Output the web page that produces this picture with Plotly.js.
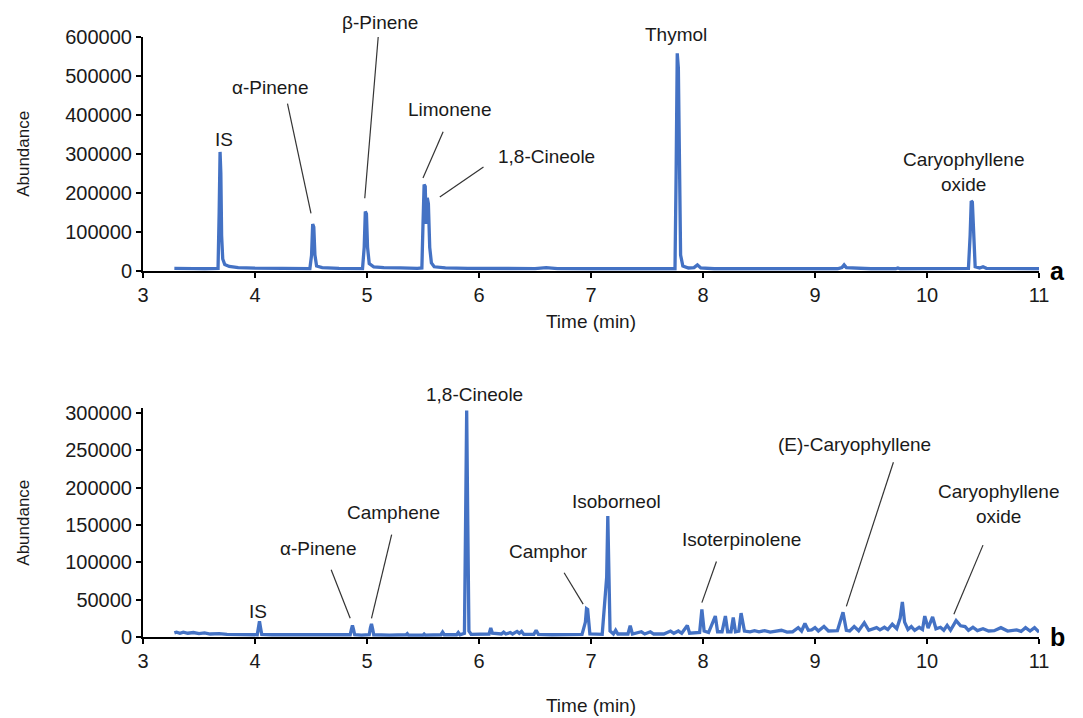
<!DOCTYPE html>
<html>
<head>
<meta charset="utf-8">
<script src="https://cdn.plot.ly/plotly-3.0.1.min.js"></script>
<style>html,body{margin:0;padding:0;background:#fff;}#chart{width:1083px;height:718px;}</style>
</head>
<body>
<div id="chart"></div>
<script>
// ---- Chromatogram a ----
const timeA = [3.28,3.35,3.45,3.55,3.65,3.67,3.68,3.688,3.695,3.702,3.712,3.73,3.77,3.85,4.0,4.2,4.4,4.49,4.505,4.515,4.525,4.535,4.55,4.6,4.75,4.96,4.975,4.985,4.995,5.005,5.02,5.06,5.15,5.22,5.3,5.45,5.49,5.5,5.51,5.52,5.528,5.538,5.548,5.56,5.575,5.6,5.7,5.9,6.2,6.5,6.6,6.7,7.0,7.3,7.6,7.75,7.76,7.77,7.78,7.79,7.8,7.82,7.87,7.92,7.95,7.98,8.1,8.5,8.9,9.2,9.24,9.26,9.28,9.5,9.72,9.74,9.76,10.0,10.3,10.37,10.385,10.395,10.405,10.415,10.43,10.47,10.5,10.53,10.7,11.0];
const abundA = [6000,5000,5500,5000,5000,6000,150000,305000,250000,90000,30000,16000,11000,8000,6500,6000,5500,5500,40000,120000,112000,40000,12000,8000,6000,5500,60000,152000,146000,60000,18000,10000,8000,8500,7000,6000,7000,120000,221000,216000,120000,187000,172000,60000,20000,10000,7000,6000,5500,5500,8000,5500,5000,5000,5000,5000,250000,558000,520000,150000,40000,12000,7000,8000,15000,7000,5000,5000,5000,5000,8000,15000,8000,5000,5000,7000,5000,5000,5000,6000,90000,179000,176000,90000,10000,7000,10000,6000,5000,5000];

// ---- Chromatogram b ----
const timeB = [3.28,3.30,3.33,3.36,3.40,3.45,3.50,3.55,3.60,3.68,3.75,3.85,3.95,4.02,4.03,4.04,4.05,4.06,4.15,4.3,4.45,4.6,4.75,4.85,4.86,4.87,4.88,4.89,4.95,5.02,5.03,5.04,5.05,5.06,5.2,5.35,5.36,5.37,5.5,5.51,5.52,5.66,5.675,5.69,5.8,5.815,5.83,5.87,5.88,5.89,5.90,5.91,5.93,6.0,6.09,6.105,6.12,6.2,6.22,6.24,6.28,6.30,6.34,6.36,6.38,6.40,6.49,6.51,6.53,6.65,6.8,6.92,6.95,6.96,6.97,6.98,6.99,7.1,7.14,7.15,7.16,7.17,7.2,7.22,7.24,7.33,7.35,7.37,7.45,7.48,7.53,7.56,7.65,7.71,7.74,7.78,7.81,7.86,7.88,7.97,7.99,8.01,8.05,8.11,8.13,8.17,8.20,8.22,8.25,8.27,8.29,8.32,8.34,8.37,8.42,8.46,8.5,8.55,8.6,8.7,8.75,8.8,8.85,8.88,8.91,8.94,8.97,9.0,9.03,9.08,9.12,9.2,9.25,9.28,9.31,9.35,9.39,9.44,9.48,9.55,9.58,9.62,9.65,9.69,9.73,9.76,9.78,9.80,9.83,9.86,9.89,9.93,9.96,9.98,10.01,10.05,10.08,10.12,10.15,10.18,10.21,10.26,10.30,10.34,10.37,10.41,10.45,10.5,10.55,10.6,10.66,10.72,10.8,10.84,10.88,10.92,10.96,11.0];
const abundB = [5500,6500,5000,6500,5000,6000,4500,5500,4000,4500,3500,3500,3000,3000,12000,21000,12000,3500,3000,3000,2500,3000,2500,3000,10000,15500,10000,3000,2500,3000,12000,17500,11000,3000,2500,3000,4500,2500,2500,4000,2500,3000,6500,3000,3000,6000,3000,5000,150000,303000,150000,8000,3500,3500,4000,12000,5000,4000,6500,4000,6000,4000,7500,5000,7500,3500,3500,9000,3500,3000,3000,3500,20000,38000,37000,15000,4000,3500,80000,162000,60000,8000,4000,9000,4000,4000,15000,4000,7000,4000,7000,4000,4000,8000,5000,8000,5000,15500,5000,6000,37000,8000,6000,28000,7000,7000,28000,7000,7000,26000,7000,8000,32000,8000,7000,8500,7000,8500,6500,9000,6500,7000,12500,8000,18000,9000,9500,12500,8000,14000,8000,8500,33000,9000,8000,14000,8500,19000,9000,12500,9500,13000,10000,17000,11000,25000,47000,20000,10000,14000,9000,13000,10000,28000,12000,27000,11000,13000,9000,15500,9000,22000,15000,14000,9000,13000,8500,11000,8000,8500,12500,8000,9500,7500,12500,8000,12500,6500];

// ---- Peak labels (text, x, y, extra pixel shift for labels above the plot top) ----
const labelsA = ["IS","α-Pinene","β-Pinene","Limonene","1,8-Cineole","Thymol","Caryophyllene<br>oxide"];
const labelAX = [3.72,4.13,5.12,5.74,6.60,7.76,10.33];
const labelAY = [336000,470000,599000,414000,292000,599000,253000];
const labelAShift = [0,0,15,0,0,3,0];
// leader lines [x0,y0,x1,y1]
const leadersA = [[4.29,429000,4.50,147000],[5.10,600000,4.98,186000],[5.68,357000,5.50,238000],[6.04,266000,5.65,189000]];

const labelsB = ["IS","α-Pinene","Camphene","1,8-Cineole","Camphor","Isoborneol","Isoterpinolene","(E)-Caryophyllene","Caryophyllene<br>oxide"];
const labelBX = [4.03,4.56,5.24,5.96,6.62,7.23,8.34,9.35,10.64];
const labelBY = [34500,118000,166000,305000,114000,182000,130000,258000,178000];
const labelBShift = [0,0,0,15,0,0,0,0,0];
const leadersB = [[4.68,90000,4.85,25000],[5.22,137000,5.04,25000],[6.76,86000,6.93,44000],[8.12,101000,7.99,46000],[9.70,234000,9.28,41000],[10.50,123000,10.24,30500]];

const xTicks = [3,4,5,6,7,8,9,10,11];

const FONT = "'Liberation Sans', Arial, Helvetica, sans-serif";
const BLUE = "#4472C4";
const FS = 19;
const TFS = 20;

const traces = [
  {x: timeA, y: abundA, type: 'scatter', mode: 'lines', line: {color: BLUE, width: 3.3}, xaxis: 'x', yaxis: 'y', hoverinfo: 'x+y'},
  {x: timeB, y: abundB, type: 'scatter', mode: 'lines', line: {color: BLUE, width: 3.3}, xaxis: 'x2', yaxis: 'y2', hoverinfo: 'x+y'}
];

const annotations = [];
labelsA.forEach((t, i) => annotations.push({text: t, x: labelAX[i], y: labelAY[i], yshift: labelAShift[i], xref: 'x', yref: 'y', showarrow: false, font: {size: FS, color: '#1a1a1a', family: FONT}}));
labelsB.forEach((t, i) => annotations.push({text: t, x: labelBX[i], y: labelBY[i], yshift: labelBShift[i], xref: 'x2', yref: 'y2', showarrow: false, font: {size: FS, color: '#1a1a1a', family: FONT}}));
annotations.push({text: '<b>a</b>', x: 1.01, y: 0, xref: 'paper', yref: 'y', showarrow: false, xanchor: 'left', font: {size: 25, color: '#000', family: FONT}});
annotations.push({text: '<b>b</b>', x: 1.01, y: 0, xref: 'paper', yref: 'y2', showarrow: false, xanchor: 'left', font: {size: 25, color: '#000', family: FONT}});

const shapes = [];
leadersA.forEach(l => shapes.push({type: 'line', xref: 'x', yref: 'y', x0: l[0], y0: l[1], x1: l[2], y1: l[3], line: {color: '#333', width: 1.2}}));
leadersB.forEach(l => shapes.push({type: 'line', xref: 'x2', yref: 'y2', x0: l[0], y0: l[1], x1: l[2], y1: l[3], line: {color: '#333', width: 1.2}}));

const xCommon = {range: [3, 11], tickvals: xTicks, showline: true, linecolor: '#000', linewidth: 2, ticks: 'outside', ticklen: 5, tickwidth: 2, tickcolor: '#000', showgrid: false, zeroline: false, tickfont: {size: TFS, family: FONT, color: '#1a1a1a'}, fixedrange: true};
const yCommon = {showline: true, linecolor: '#000', linewidth: 2, ticks: 'outside', ticklen: 5, tickwidth: 2, tickcolor: '#000', showgrid: false, zeroline: false, tickformat: 'd', tickfont: {size: TFS, family: FONT, color: '#1a1a1a'}, fixedrange: true};

const layout = {
  width: 1083, height: 718,
  margin: {l: 143, r: 44, t: 37, b: 81},
  paper_bgcolor: '#fff', plot_bgcolor: '#fff',
  showlegend: false,
  font: {family: FONT, color: '#1a1a1a'},
  xaxis: Object.assign({}, xCommon, {anchor: 'y', title: {text: 'Time (min)', standoff: 10, font: {size: FS, family: FONT}}}),
  yaxis: Object.assign({}, yCommon, {domain: [0.6105, 1], range: [0, 600000], dtick: 100000, title: {text: 'Abundance', standoff: 31, font: {size: 17, family: FONT}}}),
  xaxis2: Object.assign({}, xCommon, {anchor: 'y2', title: {text: 'Time (min)', standoff: 28, font: {size: FS, family: FONT}}}),
  yaxis2: Object.assign({}, yCommon, {domain: [0, 0.381], range: [0, 306000], tickvals: [0,50000,100000,150000,200000,250000,300000], title: {text: 'Abundance', standoff: 31, font: {size: 17, family: FONT}}}),
  annotations: annotations,
  shapes: shapes
};

Plotly.newPlot('chart', traces, layout, {displayModeBar: false, staticPlot: true});
</script>
</body>
</html>
